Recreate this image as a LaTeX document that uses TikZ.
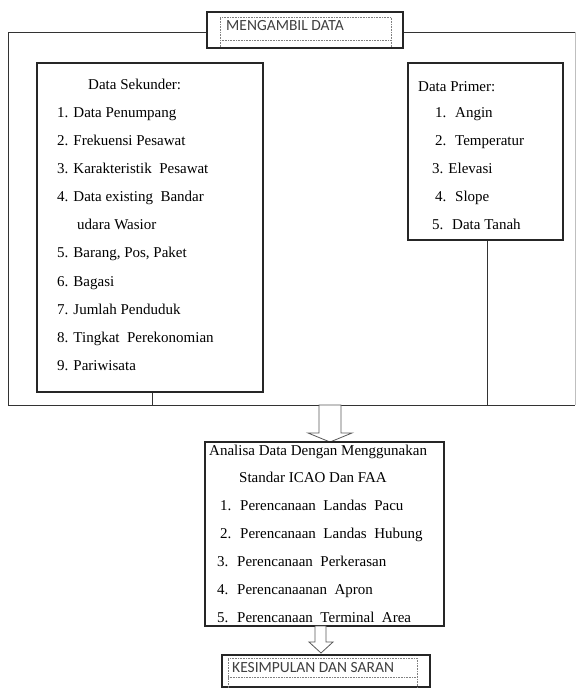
\documentclass[tikz,border=0pt]{standalone}
\usepackage{fontspec}
\setmainfont{Liberation Serif}
\newfontfamily\calibri{Carlito}
\begin{document}
\begin{tikzpicture}[x=1pt, y=-1pt, every node/.style={font=\rmfamily\fontsize{15}{18}\selectfont}]
  \tikzset{
    box/.style={draw=black!85, line width=1.6pt, fill=white, inner sep=0pt},
    txt/.style={anchor=west, inner sep=0pt, text height=0.7em, text depth=0.25em, text=black},
    lbl/.style={txt, font=\calibri\fontsize{15.5}{18}\selectfont, text=black!75},
    dot/.style={black!50, densely dotted, line width=0.6pt},
    frame/.style={black!80, line width=0.9pt},
    blk/.style={draw=black!65, line width=0.8pt, fill=white}
  }
  \useasboundingbox (0,0) rectangle (576,688);
  % outer frame
  \draw[frame] (575,32) -- (8,32) -- (8,405) -- (575,405);
  \draw[black!25, line width=0.6pt] (575,32) -- (575,405);
  \coordinate (s1) at (152,405);
  \coordinate (p1) at (487,405);

  \node[box, minimum width=196, minimum height=36] (ambil) at (305,30) {};
  \draw[dot] (220,47) -- (220,17) -- (391,17) -- (391,47);
  \draw[dot] (220,40) -- (391,40);
  \node[lbl] (ambiltxt) at (226,28.5) {MENGAMBIL DATA};

  % data sekunder
  \node[box, minimum width=226, minimum height=329] (sek) at (150,227.5) {};
  \node[txt] (sek0) at (88,87) {Data Sekunder:};
  \node[txt] (sek1) at (57,115) {1. Data Penumpang};
  \node[txt] (sek2) at (57,143) {2. Frekuensi Pesawat};
  \node[txt] (sek3) at (57,171) {3. Karakteristik \ Pesawat};
  \node[txt] (sek4) at (57,199) {4. Data existing \ Bandar};
  \node[txt] (sek4b) at (77,227) {udara Wasior};
  \node[txt] (sek5) at (57,255) {5. Barang, Pos, Paket};
  \node[txt] (sek6) at (57,284) {6. Bagasi};
  \node[txt] (sek7) at (57,312) {7. Jumlah Penduduk};
  \node[txt] (sek8) at (57,340) {8. Tingkat \ Perekonomian};
  \node[txt] (sek9) at (57,368) {9. Pariwisata};
  \draw[frame] (sek.south -| s1) -- (s1);

  % data primer
  \node[box, minimum width=155, minimum height=177] (pri) at (485.5,151.5) {};
  \node[txt] (pri0) at (418,89) {Data Primer:};
  \node[txt] (pri1) at (435,115) {1. \ Angin};
  \node[txt] (pri2) at (435,143) {2. \ Temperatur};
  \node[txt] (pri3) at (432,171) {3. Elevasi};
  \node[txt] (pri4) at (435,199) {4. \ Slope};
  \node[txt] (pri5) at (432,227) {5. \ Data Tanah};
  \draw[frame] (pri.south -| p1) -- (p1);

  % arrow to analisa
  \draw[blk] (319,405) -- (319,433) -- (308,433) -- (330,442) -- (352,433) -- (341,433) -- (341,405) -- cycle;

  \node[box, minimum width=239, minimum height=184] (ana) at (324.5,534) {};
  \node[txt] (ana0) at (209,453) {Analisa Data Dengan Menggunakan};
  \node[txt] (ana0b) at (239,480) {Standar ICAO Dan FAA};
  \node[txt] (ana1) at (220,508) {1. \ Perencanaan \ Landas \ Pacu};
  \node[txt] (ana2) at (220,536) {2. \ Perencanaan \ Landas \ Hubung};
  \node[txt] (ana3) at (217,564) {3. \ Perencanaan \ Perkerasan};
  \node[txt] (ana4) at (217,592) {4. \ Perencanaanan \ Apron};
  \node[txt] (ana5) at (217,620) {5. \ Perencanaan \ Terminal \ Area};

  % arrow to kesimpulan
  \draw[blk] (315,626) -- (315,642) -- (309,642) -- (321,653) -- (333,642) -- (326,642) -- (326,626) -- cycle;

  \node[box, minimum width=208, minimum height=32] (kes) at (326,671) {};
  \draw[dot] (228,688) -- (228,658) -- (417,658) -- (417,688);
  \draw[dot] (228,677) -- (417,677);
  \node[lbl] (kestxt) at (232,670) {KESIMPULAN DAN SARAN};
\end{tikzpicture}
\end{document}
